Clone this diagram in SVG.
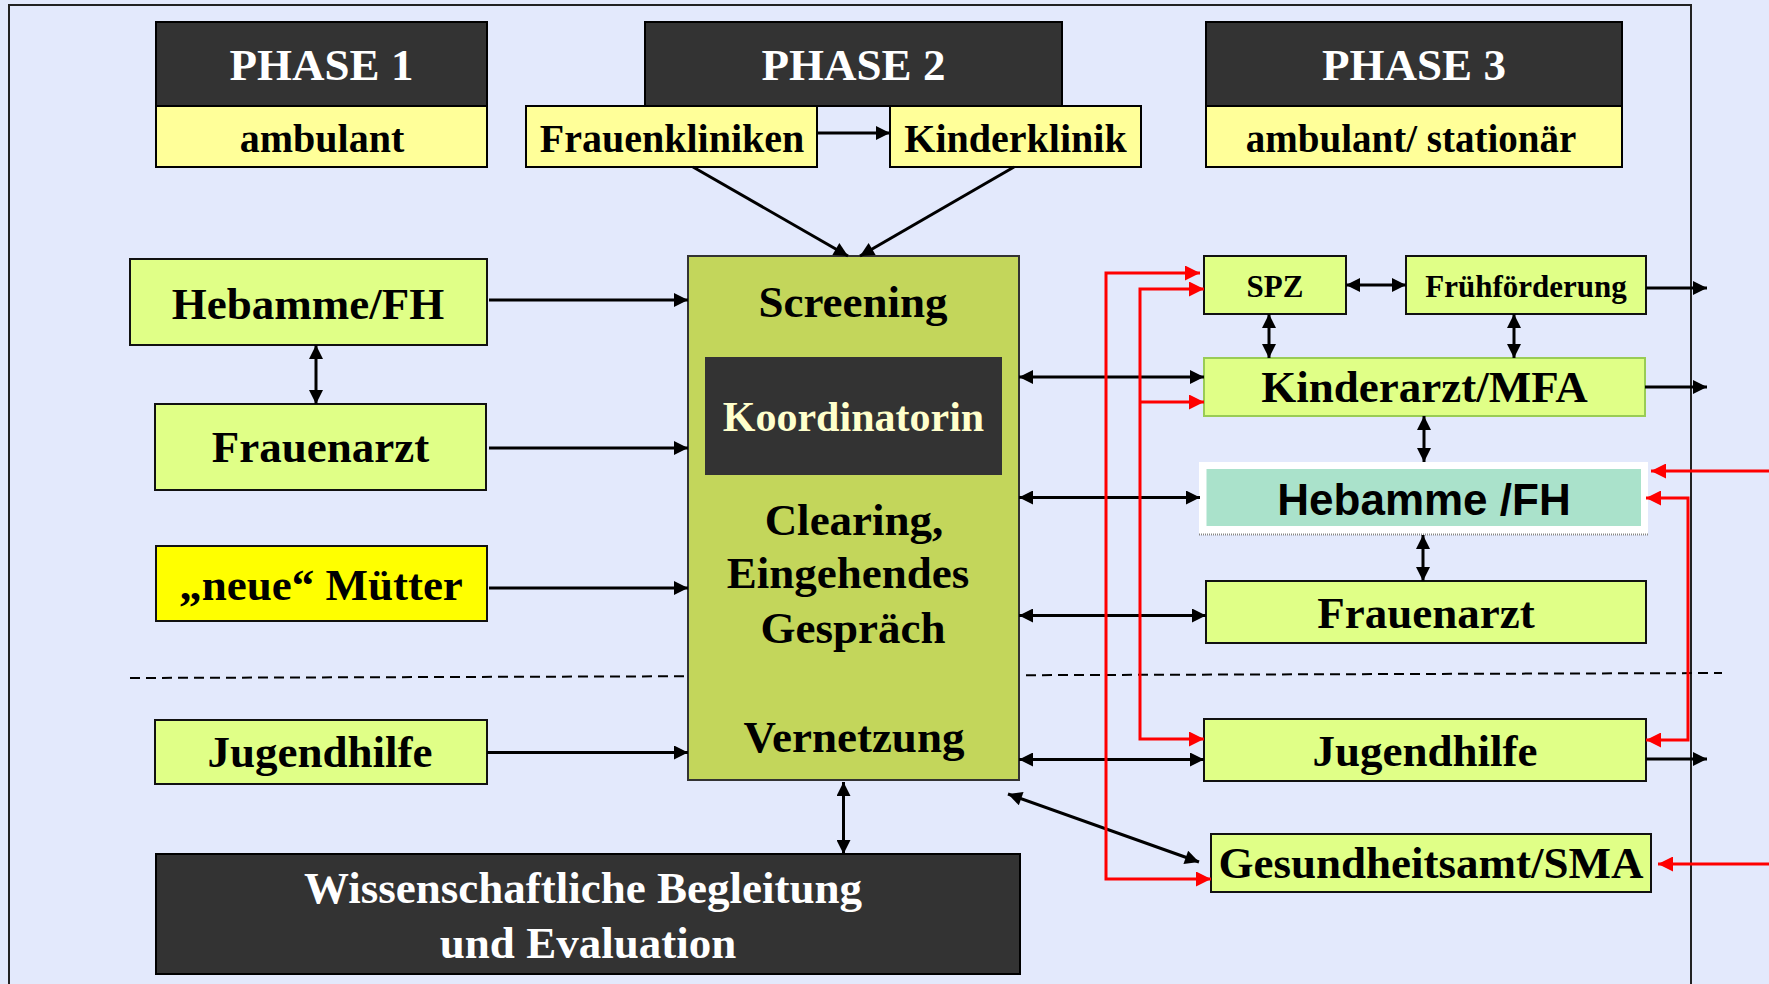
<svg xmlns="http://www.w3.org/2000/svg" width="1769" height="984" viewBox="0 0 1769 984">
<style>
.t{font-family:"Liberation Serif","Times New Roman",serif;font-weight:bold;text-anchor:middle;fill:#000}
.w{fill:#fff}
.dark{fill:#333;stroke:#000;stroke-width:2}
.yel{fill:#FFFF99;stroke:#000;stroke-width:2}
.lg{fill:#E0FF87;stroke:#111;stroke-width:2}
.bl{stroke:#000;stroke-width:3;fill:none}
.rd{stroke:#FF0000;stroke-width:3;fill:none}
</style>
<defs>
<marker id="ah" viewBox="0 0 10 10" refX="10" refY="5" markerWidth="16" markerHeight="14" markerUnits="userSpaceOnUse" orient="auto-start-reverse"><path d="M0,0 L10,5 L0,10 z" fill="#000"/></marker>
<marker id="ar" viewBox="0 0 10 10" refX="10" refY="5" markerWidth="16" markerHeight="15" markerUnits="userSpaceOnUse" orient="auto-start-reverse"><path d="M0,0 L10,5 L0,10 z" fill="#FF0000"/></marker>
</defs>
<rect x="0" y="0" width="1769" height="984" fill="#E3E9FC"/>
<rect x="9" y="5" width="1682" height="1000" fill="none" stroke="#222" stroke-width="2"/>

<g id="divider">
<path d="M130,678 L1722,673" stroke="#000" stroke-width="2" stroke-dasharray="10,6" fill="none"/>
</g>

<g id="phase1">
<rect class="dark" x="156" y="22" width="331" height="84"/>
<rect class="yel" x="156" y="106" width="331" height="61"/>
<text class="t w" x="321.5" y="80" font-size="45">PHASE 1</text>
<text class="t" x="322" y="152" font-size="40">ambulant</text>
</g>
<g id="phase2">
<rect class="dark" x="645" y="22" width="417" height="84"/>
<text class="t w" x="853.5" y="80" font-size="45">PHASE 2</text>
</g>
<g id="frauenkliniken">
<rect class="yel" x="526" y="106" width="291" height="61"/>
<text class="t" x="672" y="152" font-size="40">Frauenkliniken</text>
</g>
<g id="kinderklinik">
<rect class="yel" x="890" y="106" width="251" height="61"/>
<text class="t" x="1015.5" y="152" font-size="40">Kinderklinik</text>
</g>
<g id="phase3">
<rect class="dark" x="1206" y="22" width="416" height="84"/>
<rect class="yel" x="1206" y="106" width="416" height="61"/>
<text class="t w" x="1414" y="80" font-size="45">PHASE 3</text>
<text class="t" x="1411" y="152" font-size="39">ambulant/ stationär</text>
</g>

<g id="hebamme-left">
<rect class="lg" x="130" y="259" width="357" height="86"/>
<text class="t" x="308" y="319" font-size="45">Hebamme/FH</text>
</g>
<g id="frauenarzt-left">
<rect class="lg" x="155" y="404" width="331" height="86"/>
<text class="t" x="320.5" y="462" font-size="45">Frauenarzt</text>
</g>
<g id="neue-muetter">
<rect x="156" y="546" width="331" height="75" fill="#FFFF00" stroke="#111" stroke-width="2"/>
<text class="t" x="321" y="600" font-size="45">„neue“ Mütter</text>
</g>
<g id="jugendhilfe-left">
<rect class="lg" x="155" y="720" width="332" height="64"/>
<text class="t" x="320" y="767" font-size="45">Jugendhilfe</text>
</g>

<g id="center">
<rect x="688" y="256" width="331" height="524" fill="#C3D65B" stroke="#333" stroke-width="2"/>
<text class="t" x="853" y="317" font-size="45">Screening</text>
<rect x="705" y="357" width="297" height="118" fill="#333"/>
<text class="t" x="853.5" y="431" font-size="42" style="fill:#FFFFCC">Koordinatorin</text>
<text class="t" x="854" y="535" font-size="45">Clearing,</text>
<text class="t" x="848" y="588" font-size="45">Eingehendes</text>
<text class="t" x="853" y="643" font-size="45">Gespräch</text>
<text class="t" x="854" y="752" font-size="45">Vernetzung</text>
</g>

<g id="wissenschaft">
<rect class="dark" x="156" y="854" width="864" height="120"/>
<text class="t w" x="583" y="903" font-size="45">Wissenschaftliche Begleitung</text>
<text class="t w" x="588" y="958" font-size="45">und Evaluation</text>
</g>

<g id="spz">
<rect class="lg" x="1204" y="256" width="142" height="58"/>
<text class="t" x="1275" y="297" font-size="31">SPZ</text>
</g>
<g id="fruehfoerderung">
<rect class="lg" x="1406" y="256" width="240" height="58"/>
<text class="t" x="1526" y="297" font-size="31">Frühförderung</text>
</g>
<g id="kinderarzt">
<rect x="1204" y="358" width="441" height="58" fill="#E0FF87" stroke="#99CC55" stroke-width="2"/>
<text class="t" x="1424.5" y="402" font-size="45">Kinderarzt/MFA</text>
</g>
<g id="hebamme-right">
<rect x="1199" y="462" width="449" height="73" fill="#fff"/>
<rect x="1206.5" y="469" width="434.5" height="57" fill="#AAE2CB"/>
<path d="M1199,534.5 H1648" stroke="#888" stroke-width="2" stroke-dasharray="1,1"/>
<text x="1424" y="515" font-size="44" font-family="'Liberation Sans',Arial,sans-serif" font-weight="bold" text-anchor="middle" fill="#000">Hebamme /FH</text>
</g>
<g id="frauenarzt-right">
<rect class="lg" x="1206" y="581" width="440" height="62"/>
<text class="t" x="1426" y="628" font-size="45">Frauenarzt</text>
</g>
<g id="jugendhilfe-right">
<rect class="lg" x="1204" y="719" width="442" height="62"/>
<text class="t" x="1425" y="766" font-size="45">Jugendhilfe</text>
</g>
<g id="gesundheitsamt">
<rect class="lg" x="1211" y="834" width="440" height="58"/>
<text class="t" x="1431" y="878" font-size="45">Gesundheitsamt/SMA</text>
</g>

<g id="connectors">
<g class="bl" marker-end="url(#ah)">
<path d="M817,133 H890"/>
<path d="M693,167 L848,256"/>
<path d="M1014,167 L860,256"/>
<path d="M489,300 H688"/>
<path d="M489,448 H688"/>
<path d="M489,588 H688"/>
<path d="M487,752.5 H688"/>
<path d="M1646,288 H1707"/>
<path d="M1645,387 H1707"/>
<path d="M1646,759 H1707"/>
</g>
<g class="bl" marker-start="url(#ah)" marker-end="url(#ah)">
<path d="M316,345 V404"/>
<path d="M843.5,782 V854"/>
<path d="M1019,377 H1204"/>
<path d="M1019,497.5 H1200"/>
<path d="M1019,615.5 H1206"/>
<path d="M1019,759.5 H1204"/>
<path d="M1008,794 L1199,862"/>
<path d="M1346,285 H1406"/>
<path d="M1269,314 V358"/>
<path d="M1514,314 V358"/>
<path d="M1424,416 V462"/>
<path d="M1423,535 V581"/>
</g>
<g class="rd" marker-start="url(#ar)" marker-end="url(#ar)">
<path d="M1200,273 H1106 V879 H1211"/>
<path d="M1204,289 H1140 V739 H1204"/>
<path d="M1646,498 H1688 V740 H1646"/>
</g>
<g class="rd" marker-end="url(#ar)">
<path d="M1140,402 H1204"/>
<path d="M1769,471 H1651"/>
<path d="M1769,864 H1658"/>
</g>
</g>
</svg>
